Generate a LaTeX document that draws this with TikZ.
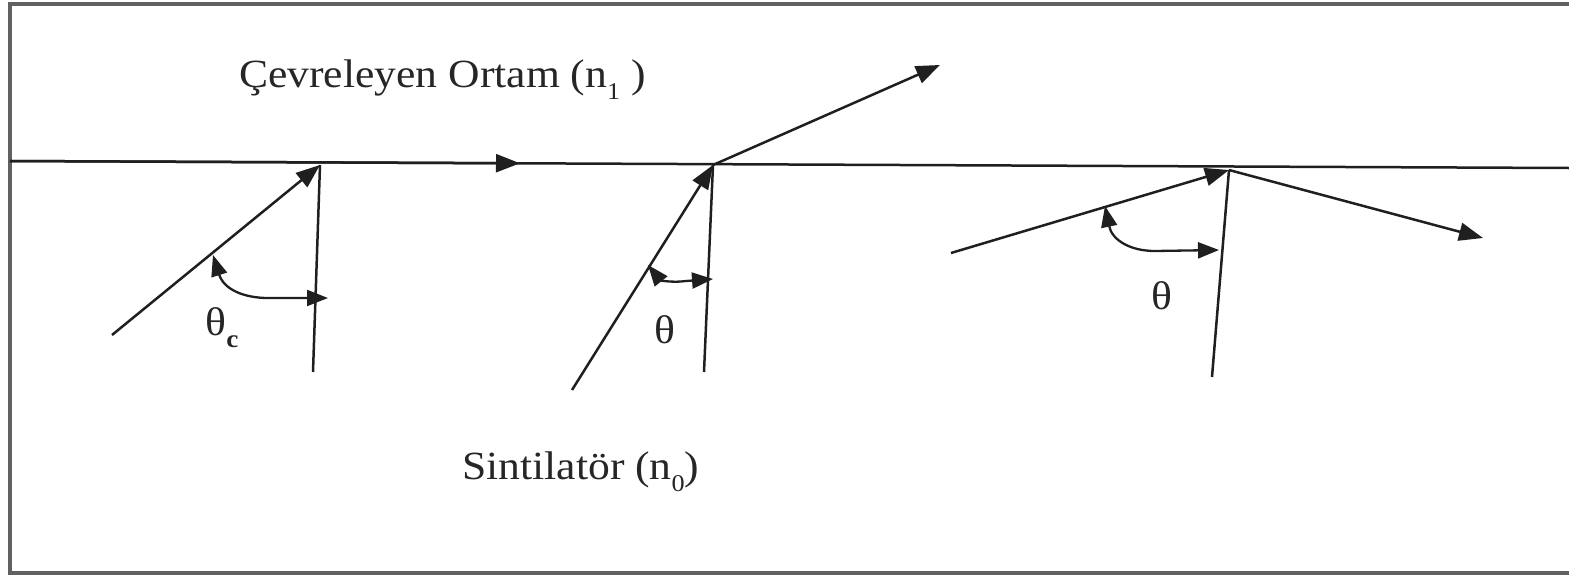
\documentclass[tikz,border=0pt]{standalone}
\usepackage{fontspec}
\setmainfont[FakeStretch=1.09]{Liberation Serif}
\usetikzlibrary{arrows.meta}
\newcommand\subidx[1]{\raisebox{-0.3em}{\fontsize{24}{24}\selectfont #1}}
\begin{document}
\begin{tikzpicture}[x=1pt,y=-1pt,
  frameline/.style={line width=3.2pt, draw=black!62},
  ray/.style={line width=2.5pt, draw=black!88},
  tip/.style={-{Triangle[length=24pt,width=18pt]}},
  arcline/.style={line width=2.3pt, draw=black!88, {Triangle[length=21pt,width=16pt]}-{Triangle[length=21pt,width=16pt]}},
  lbl/.style={font=\fontsize{40}{48}\selectfont, inner sep=0pt, text=black!85}]
\useasboundingbox (0,0) rectangle (1569,576);
% frame
\draw[frameline] (1569,4) -- (10,4) -- (10,573) -- (1569,573);
% interface
\coordinate (hl) at (10,161);
\coordinate (hr) at (1569,168);
\coordinate (hm) at (520,163.3);
\draw[ray] (hl) -- (hr);
\draw[ray,tip] (hl) -- (hm);
% labels
\node[lbl, anchor=base west] (top) at (239,87) {Çevreleyen Ortam (n\subidx{1} )};
\node[lbl, anchor=base west] (bot) at (462,479) {Sintilatör (n\subidx{0})};
% ray 1 (critical angle)
\coordinate (s1) at (112,335);
\coordinate (p1) at (320,165);
\coordinate (n1) at (313,372);
\draw[ray,tip] (s1) -- (p1);
\draw[ray] (p1) -- (n1);
\draw[arcline] (213,255) .. controls (224,290) and (245,298) .. (268,298) -- (328,298);
\node[lbl] (tc) at (222,328) {θ\raisebox{-0.3em}{\fontsize{25}{25}\selectfont\bfseries c}};
% ray 2 (refraction)
\coordinate (s2) at (572,390);
\coordinate (p2) at (713,165);
\coordinate (n2) at (704,372);
\coordinate (r2) at (940,65);
\draw[ray,tip] (s2) -- (p2);
\draw[ray] (p2) -- (n2);
\draw[ray,tip] (p2) -- (r2);
\draw[arcline] (648,265) .. controls (660,280) and (672,283) .. (686,281) -- (713,279);
\node[lbl] (t2) at (665,330) {θ};
% ray 3 (total internal reflection)
\coordinate (s3) at (951,253);
\coordinate (p3) at (1229,170);
\coordinate (n3) at (1212,377);
\coordinate (r3) at (1483,238);
\draw[ray,tip] (s3) -- (p3);
\draw[ray] (p3) -- (n3);
\draw[ray,tip] (p3) -- (r3);
\draw[arcline] (1105,206) .. controls (1112,240) and (1130,251) .. (1155,251) -- (1219,250);
\node[lbl] (t3) at (1162,296) {θ};
\end{tikzpicture}
\end{document}
